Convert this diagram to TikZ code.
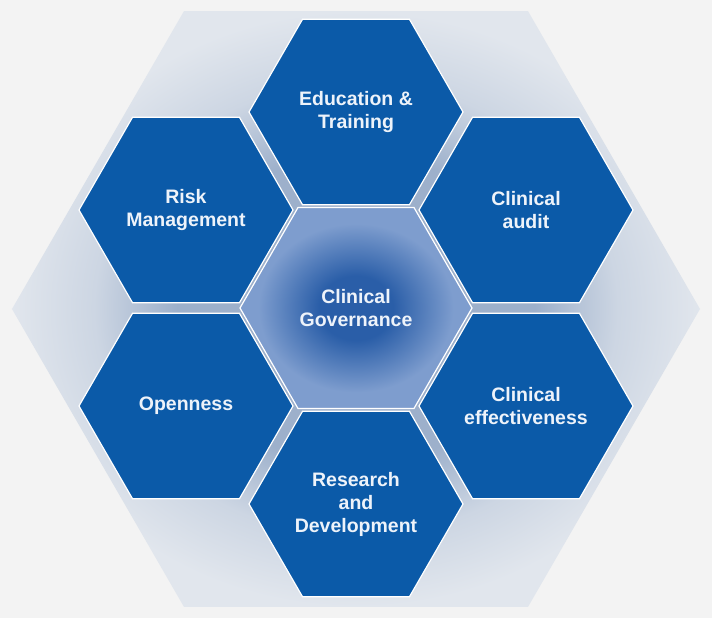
\documentclass[tikz,border=0pt]{standalone}
\usepackage{fontspec}
\setmainfont{Liberation Sans}
\definecolor{paper}{HTML}{F3F3F3}
\definecolor{rim}{HTML}{E1E6ED}
\definecolor{dusk}{HTML}{9DB0CB}
\definecolor{cell}{HTML}{0B5AA8}
\definecolor{core}{HTML}{2A5EA8}
\definecolor{glow}{HTML}{7E9DCE}
\definecolor{label}{HTML}{EEF3FA}
\pgfdeclareradialshading{outerglow}{\pgfpoint{0bp}{0bp}}{color(0bp)=(dusk); color(13bp)=(dusk); color(19bp)=(rim!70!dusk); color(25bp)=(rim); color(50bp)=(rim)}
\pgfdeclareradialshading{coreglow}{\pgfpoint{0bp}{0bp}}{color(0bp)=(core); color(8bp)=(core); color(21bp)=(glow); color(50bp)=(glow)}

\begin{document}
\begin{tikzpicture}[x=1pt, y=1pt,
    cellfill/.style={fill=cell, draw=white, line width=1.2pt},
    celltext/.style={text=label, align=center, font=\bfseries\fontsize{19.5}{23}\selectfont}]
  \useasboundingbox[fill=paper] (-356,-310) rectangle (356,308);

  % big backdrop
  \shade[shading=outerglow] (0,-1) +(0:344) \foreach \a in {60,120,...,300} {-- +(\a:344)} -- cycle;

  % middle cell
  \shade[shading=coreglow, draw=white, line width=1.2pt] (0,0) +(0:116) \foreach \a in {60,120,...,300} {-- +(\a:116)} -- cycle;
  \node[celltext] (gov) at (0,0) {Clinical\\Governance};

  % ring of cells
  \foreach \x/\y/\name/\txt in {0/196/edu/{Education \&\\Training},
      170/98/audit/{Clinical\\audit},
      170/-98/effect/{Clinical\\effectiveness},
      0/-196/research/{Research\\and\\Development},
      -170/-98/open/{Openness},
      -170/98/risk/{Risk\\Management}} {
    \draw[cellfill] (\x,\y) +(0:107) \foreach \a in {60,120,...,300} {-- +(\a:107)} -- cycle;
    \node[celltext] (\name) at (\x,\y) {\txt};
  }
\end{tikzpicture}
\end{document}
